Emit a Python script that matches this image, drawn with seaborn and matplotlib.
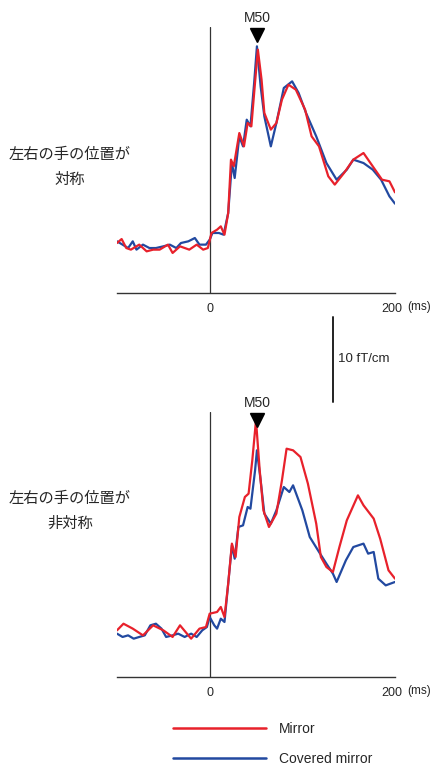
import numpy as np
import pandas as pd
import matplotlib
matplotlib.use("Agg")
import matplotlib.pyplot as plt
import matplotlib.transforms as mtransforms
import seaborn as sns
from matplotlib import font_manager

# --- data (time in ms, amplitude in fT/cm) ---
labels = ["Mirror", "Covered mirror"]
panel_titles = ["左右の手の位置が\n対称", "左右の手の位置が\n非対称"]
x_ticks = [0, 200]
scale_bar_value = 10  # fT/cm

sym_mirror_t = [-100, -95, -90, -85, -76, -68, -61, -54, -45, -40, -32, -22, -14, -7, -2,
                2, 8, 12, 16, 20, 23, 26, 32, 37, 41, 45, 48, 52, 56, 59, 66, 72, 78, 85,
                93, 103, 110, 118, 128, 135, 145, 155, 166, 176, 186, 194, 200]
sym_mirror_v = [5.88, 6.35, 5.29, 5.10, 5.69, 4.90, 5.10, 5.10, 5.69, 4.71, 5.49, 5.10, 5.69, 5.10, 5.29,
                7.06, 7.45, 7.84, 6.86, 9.41, 15.69, 14.90, 18.82, 17.25, 20.00, 19.61, 23.53, 28.63,
                25.10, 21.18, 19.22, 20.00, 22.75, 24.51, 23.92, 21.57, 18.43, 17.25, 13.73, 12.75,
                14.12, 15.69, 16.47, 14.90, 13.33, 13.14, 11.84]

sym_covered_t = [-100, -94, -88, -83, -79, -72, -65, -58, -50, -43, -36, -31, -23, -16, -11, -4,
                 0, 3, 10, 15, 20, 24, 27, 32, 36, 40, 44, 48, 51, 55, 59, 66, 72, 80, 89, 96,
                 104, 115, 126, 137, 148, 155, 166, 176, 185, 194, 200]
sym_covered_v = [6.08, 5.69, 5.29, 6.08, 5.10, 5.69, 5.29, 5.29, 5.49, 5.69, 5.29, 5.88, 6.08, 6.47,
                 5.69, 5.69, 6.27, 7.06, 7.06, 6.86, 9.41, 15.29, 13.53, 18.43, 17.25, 20.39, 19.61,
                 24.71, 29.02, 24.31, 20.78, 17.25, 20.00, 24.12, 24.90, 23.53, 21.18, 18.43, 15.29,
                 13.33, 14.51, 15.69, 15.29, 14.51, 13.33, 11.37, 10.51]

asym_mirror_t = [-100, -93, -83, -72, -61, -50, -40, -32, -20, -11, -4, 0, 8, 12, 16, 20, 24, 28,
                 32, 38, 42, 46, 50, 54, 58, 64, 72, 78, 83, 90, 98, 106, 115, 120, 126, 133, 140,
                 148, 160, 166, 177, 184, 193, 200]
asym_mirror_v = [5.49, 6.27, 5.69, 4.90, 6.08, 5.49, 4.71, 6.08, 4.51, 5.69, 5.88, 7.45, 7.65, 8.24,
                 7.06, 10.98, 15.69, 14.12, 18.82, 21.18, 21.57, 25.49, 30.20, 24.31, 19.61, 17.65,
                 19.22, 23.14, 26.86, 26.67, 25.88, 22.75, 18.04, 14.12, 12.94, 12.35, 15.29, 18.43,
                 21.37, 20.20, 18.63, 16.27, 12.55, 11.57]

asym_covered_t = [-100, -94, -88, -82, -76, -70, -64, -58, -52, -47, -40, -34, -27, -20, -14, -8,
                  -3, 0, 5, 8, 12, 16, 20, 24, 27, 31, 36, 41, 44, 49, 51, 55, 59, 66, 72, 80, 86,
                  90, 100, 108, 118, 126, 133, 137, 147, 155, 166, 171, 177, 182, 190, 200]
asym_covered_v = [5.10, 4.71, 4.90, 4.51, 4.71, 4.90, 6.08, 6.27, 5.69, 4.71, 4.90, 5.10, 4.71, 5.10,
                  4.71, 5.49, 5.88, 7.06, 6.08, 5.69, 6.86, 6.47, 10.98, 15.49, 13.92, 17.65, 17.84,
                  20.00, 19.80, 24.31, 26.67, 23.14, 19.22, 18.04, 19.61, 22.35, 21.76, 22.55, 19.61,
                  16.47, 14.71, 13.33, 12.16, 11.18, 13.73, 15.29, 15.69, 14.51, 14.71, 11.57, 10.78,
                  11.18]

m50_latency = 51

palette = {"Mirror": "#e8212b", "Covered mirror": "#2249a0"}


def to_frame(t_m, v_m, t_c, v_c):
    a = pd.DataFrame({"time": t_m, "amp": v_m, "cond": labels[0]})
    b = pd.DataFrame({"time": t_c, "amp": v_c, "cond": labels[1]})
    return pd.concat([a, b], ignore_index=True)


panels = [
    to_frame(sym_mirror_t, sym_mirror_v, sym_covered_t, sym_covered_v),
    to_frame(asym_mirror_t, asym_mirror_v, asym_covered_t, asym_covered_v),
]

sns.set_theme(style="white")
installed = {f.name for f in font_manager.fontManager.ttflist}
latin = "Liberation Sans Narrow" if "Liberation Sans Narrow" in installed else "Liberation Sans"
plt.rcParams["font.family"] = [latin, "Noto Sans CJK JP", "DejaVu Sans"]
cjk = ["Noto Sans CJK JP", "DejaVu Sans"]

W, H = 431, 766
fig = plt.figure(figsize=(W / 100, H / 100), dpi=100)

# axes placement in pixels: (left, axis line y, top y)
ax_px = [(117, 293, 27), (117, 677, 412)]
title_y = [167, 511]
x_right = 395
px_per_unit = 8.5  # pixels per fT/cm

axes = []
for df, (left, base, top), title, ty in zip(panels, ax_px, panel_titles, title_y):
    ax = fig.add_axes([left / W, 1 - base / H, (x_right - left) / W, (base - top) / H])
    sns.lineplot(data=df, x="time", y="amp", hue="cond", palette=palette,
                 hue_order=[labels[1], labels[0]], estimator=None, sort=True,
                 linewidth=1.6, legend=False, ax=ax)
    ax.set_xlim(-100, 200)
    ymax = (base - top) / px_per_unit
    ax.set_ylim(0, ymax)
    for s in ["top", "right", "left"]:
        ax.spines[s].set_visible(False)
    ax.spines["bottom"].set_linewidth(1.0)
    ax.spines["bottom"].set_color("#333333")
    ax.axvline(0, color="#333333", lw=0.9, zorder=0)
    ax.set_yticks([])
    ax.set_xticks(x_ticks)
    ax.set_xticklabels([str(v) for v in x_ticks], fontsize=9)
    ax.tick_params(axis="x", length=0, pad=7)
    # nudge "200" a little left so it clears the unit label
    lbl = ax.get_xticklabels()[-1]
    lbl.set_transform(lbl.get_transform() +
                      mtransforms.ScaledTranslation(-3 / 100, 0, fig.dpi_scale_trans))
    ax.set_xlabel("")
    ax.set_ylabel("")
    ax.patch.set_alpha(0)
    ax.text(1.088, -0.03, "(ms)", transform=ax.transAxes, ha="center", va="top", fontsize=8.5)

    # M50 marker above the peak
    ax.plot([m50_latency], [ymax - 0.95], marker="v", color="black", markersize=10,
            clip_on=False, linestyle="none")
    ax.text(m50_latency, ymax + 1.1, "M50", ha="center", va="center", fontsize=10)

    fig.text(70 / W, 1 - ty / H, title, ha="center", va="center", fontsize=11,
             linespacing=1.55, family=cjk)
    axes.append(ax)

# scale bar (10 fT/cm) drawn in top-panel data units
ax0 = axes[0]
sb_x = 133
sb_top = -2.8
ax0.plot([sb_x, sb_x], [sb_top, sb_top - scale_bar_value], color="#222222", lw=1.4,
         clip_on=False)
ax0.text(sb_x + 6, sb_top - scale_bar_value / 2, f"{scale_bar_value} fT/cm", ha="left",
         va="center", fontsize=9.5)

# legend
handles = [plt.Line2D([], [], color=palette[l], lw=1.8) for l in labels]
fig.legend(handles, labels, loc="upper left", bbox_to_anchor=(167 / W, 1 - 716 / H),
           frameon=False, fontsize=10, handlelength=6.7, handletextpad=0.95,
           labelspacing=1.2, borderaxespad=0)

fig.savefig("out.png", dpi=100)
